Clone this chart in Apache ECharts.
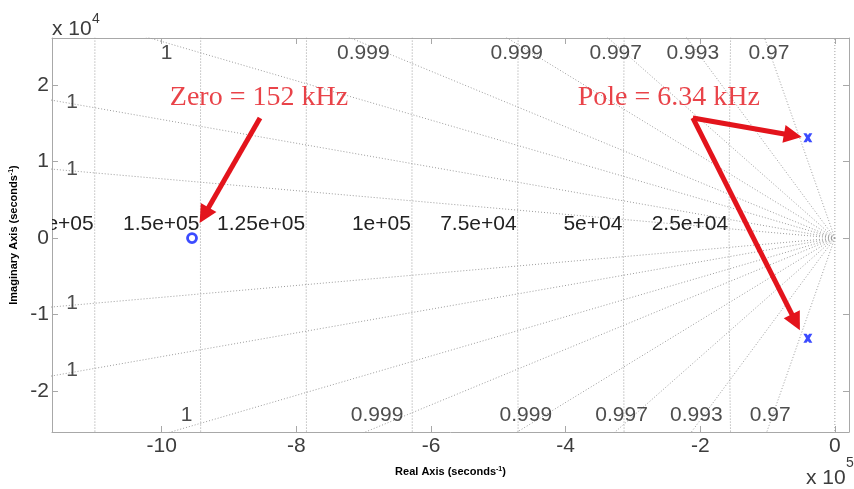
<!DOCTYPE html>
<html>
<head>
<meta charset="utf-8">
<script src="https://cdn.jsdelivr.net/npm/echarts@6/dist/echarts.min.js"></script>
<style>
html,body{margin:0;padding:0;background:#fff;}
#chart{width:854px;height:489px;}
</style>
</head>
<body>
<div id="chart"></div>
<script>
// axis limits (seconds^-1)
var xRange = [-1163000, 21000];
var yRange = [-25350, 26150];
// poles and zeros
var zeroPoints = [[-955000, 0]];
var polePoints = [[-40100, 13100], [-40100, -13100]];
// s-plane grid
var dampingRatios = [0.99997, 0.99988, 0.99967, 0.99934, 0.99856, 0.997, 0.993, 0.97, 0];
var naturalFreqsHz = [25000, 50000, 75000, 100000, 125000, 150000, 175000];
// annotations
var noteTexts = ['Zero = 152 kHz', 'Pole = 6.34 kHz'];
var notePoints = [[-988000, 18300], [-382000, 18300]];
var arrowFrom = [[-854000, 15700], [-211000, 15700], [-211000, 15700]];
var arrowTo = [[-937000, 2980], [-62400, 13400], [-58000, -11000]];

var FONT = '"Liberation Sans", Arial, Helvetica, sans-serif';
var SERIF = '"Liberation Serif", "Times New Roman", serif';
var GRID = {left: 52, top: 38, right: 5, bottom: 57};
var dxPx = (xRange[1] - xRange[0]) / (854 - GRID.left - GRID.right);
var dyPx = (yRange[1] - yRange[0]) / (489 - GRID.top - GRID.bottom);
var gridLine = {color: '#9c9c9c', width: 1, type: [1, 2]};
var boxColor = '#a8a8a8';
var RED = '#e3141c';
var BLUE = '#0a1eff';

function fmt3(v) { return String(Number(v.toPrecision(3))); }
function fmtE(v) {
  var p = v.toExponential().split('e');
  var e = parseInt(p[1], 10);
  return p[0] + 'e' + (e < 0 ? '-' : '+') + (Math.abs(e) < 10 ? '0' : '') + Math.abs(e);
}

var series = [];

// damping ratio lines
var FAR = 5e6;
dampingRatios.forEach(function (z) {
  var s = Math.sqrt(1 - z * z);
  [1, -1].forEach(function (sign) {
    series.push({type: 'line', data: [[0, 0], [-FAR * z, sign * FAR * s]], symbol: 'none',
      silent: true, clip: true, lineStyle: gridLine, z: 1});
  });
});

// natural frequency circles (radius in rad/s)
naturalFreqsHz.forEach(function (f) {
  var r = 2 * Math.PI * f;
  var amax = Math.asin(Math.min(1, 30000 / r));
  var pts = [];
  for (var i = 0; i <= 40; i++) {
    var a = -amax + 2 * amax * i / 40;
    pts.push([-r * Math.cos(a), r * Math.sin(a)]);
  }
  series.push({type: 'line', data: pts, symbol: 'none', silent: true, clip: true,
    lineStyle: gridLine, z: 1});
});

// damping labels
var topPts = [], botPts = [], leftPts = [];
dampingRatios.forEach(function (z) {
  if (z === 0) return;
  var k = Math.sqrt(1 - z * z) / z;
  var label = fmt3(z);
  var xl = xRange[0] + 20 * dxPx;
  var yTop = yRange[1] - 4 * dyPx;
  if (yRange[1] / k < -xRange[0]) topPts.push({name: label, value: [-(yTop / k), yTop]});
  else leftPts.push({name: label, value: [xl, -xl * k]});
  var yBot = -yRange[0] - 4 * dyPx;
  if (-yRange[0] / k < -xRange[0]) botPts.push({name: label, value: [-(yBot / k), -yBot]});
  else leftPts.push({name: label, value: [xl, xl * k]});
});
function labelSeries(data, va, off) {
  return {type: 'scatter', data: data, symbolSize: 0, silent: true, z: 3,
    label: {show: true, position: 'inside', formatter: '{b}', color: '#222', fontSize: 21,
      fontFamily: FONT, align: 'center', verticalAlign: va, offset: off}};
}
series.push(labelSeries(topPts, 'top', [3, 1]));
series.push(labelSeries(botPts, 'bottom', [2, -2]));
series.push(labelSeries(leftPts, 'middle', [0, -2]));

// natural frequency labels, clipped to the plot box
var wnLabels = naturalFreqsHz.map(fmtE);
series.push({
  type: 'custom', clip: true, silent: true, z: 3,
  data: naturalFreqsHz.map(function (f) { return [-2 * Math.PI * f, 0]; }),
  encode: {x: 0, y: 1},
  renderItem: function (params, api) {
    var p = api.coord([api.value(0), api.value(1)]);
    return {type: 'text', x: p[0] - 1, y: p[1] - 3,
      style: {text: wnLabels[params.dataIndex], fill: '#222', font: '21px ' + FONT,
        align: 'right', verticalAlign: 'bottom', textAlign: 'right', textVerticalAlign: 'bottom'}};
  }
});

// zero and poles
series.push({type: 'scatter', data: zeroPoints, symbol: 'circle', symbolSize: 9, z: 5,
  itemStyle: {color: 'rgba(0,0,0,0)', borderColor: BLUE, borderWidth: 2.8}});
series.push({type: 'scatter', data: polePoints, z: 5, symbolSize: 9,
  symbol: 'path://M0,0 L3.5,0 L5,2 L6.5,0 L10,0 L7,5 L10,10 L6.5,10 L5,8 L3.5,10 L0,10 L3,5Z',
  itemStyle: {color: BLUE}});

// red notes and arrows
series.push({
  type: 'scatter', z: 6, symbolSize: 0, silent: true,
  data: noteTexts.map(function (t, i) { return {name: t, value: notePoints[i]}; }),
  label: {show: true, position: 'inside', formatter: '{b}', color: RED, fontSize: 28,
    fontFamily: SERIF, align: 'left', verticalAlign: 'middle'},
  markLine: {
    silent: true, animation: false, symbol: ['none', 'triangle'], symbolSize: 18,
    label: {show: false},
    lineStyle: {color: RED, width: 5, type: 'solid'},
    data: arrowFrom.map(function (a, i) { return [{coord: a}, {coord: arrowTo[i]}]; })
  }
});

function xAx(pos, showLabels) {
  return {
    type: 'value', position: pos, min: xRange[0], max: xRange[1], splitNumber: 6,
    axisLine: {show: true, onZero: false, lineStyle: {color: boxColor}},
    axisTick: {show: true, inside: true, length: 6, lineStyle: {color: boxColor}},
    splitLine: {show: false},
    axisLabel: {show: showLabels, showMinLabel: false, showMaxLabel: false, margin: 4,
      color: '#3c3c3c', fontSize: 21, fontFamily: FONT,
      formatter: function (v) { return String(Math.round(v / 1e4) / 10); }}
  };
}
function yAx(pos, showLabels) {
  return {
    type: 'value', position: pos, min: yRange[0], max: yRange[1], splitNumber: 5,
    axisLine: {show: true, onZero: false, lineStyle: {color: boxColor}},
    axisTick: {show: true, inside: true, length: 6, lineStyle: {color: boxColor}},
    splitLine: {show: false},
    axisLabel: {show: showLabels, showMinLabel: false, showMaxLabel: false, margin: 3,
      color: '#3c3c3c', fontSize: 21, fontFamily: FONT,
      formatter: function (v) { return String(Math.round(v / 1e3) / 10); }}
  };
}
var nameStyle = {color: '#000', fontSize: 11, fontWeight: 'bold', fontFamily: FONT,
  rich: {sup: {fontSize: 7, fontWeight: 'bold', fontFamily: FONT, color: '#000', verticalAlign: 'top'}}};
var xb = xAx('bottom', true);
xb.name = 'Real Axis (seconds{sup|-1})';
xb.nameLocation = 'middle';
xb.nameGap = 34;
xb.nameTextStyle = nameStyle;
var yl = yAx('left', true);
yl.name = 'Imaginary Axis (seconds{sup|-1})';
yl.nameLocation = 'middle';
yl.nameGap = 33;
yl.nameRotate = 90;
yl.nameTextStyle = nameStyle;

var chart = echarts.init(document.getElementById('chart'), null, {renderer: 'canvas'});
chart.setOption({
  animation: false,
  backgroundColor: '#fff',
  grid: {left: GRID.left, top: GRID.top, right: GRID.right, bottom: GRID.bottom, containLabel: false},
  xAxis: [xb, xAx('top', false)],
  yAxis: [yl, yAx('right', false)],
  graphic: [
    {type: 'text', left: 52, top: 19, style: {text: 'x 10', font: '21px ' + FONT, fill: '#3c3c3c'}},
    {type: 'text', left: 92, top: 12, style: {text: '4', font: '14px ' + FONT, fill: '#3c3c3c'}},
    {type: 'text', left: 806, top: 468, style: {text: 'x 10', font: '21px ' + FONT, fill: '#3c3c3c'}},
    {type: 'text', left: 846, top: 456, style: {text: '5', font: '14px ' + FONT, fill: '#3c3c3c'}}
  ],
  series: series
});
</script>
</body>
</html>
